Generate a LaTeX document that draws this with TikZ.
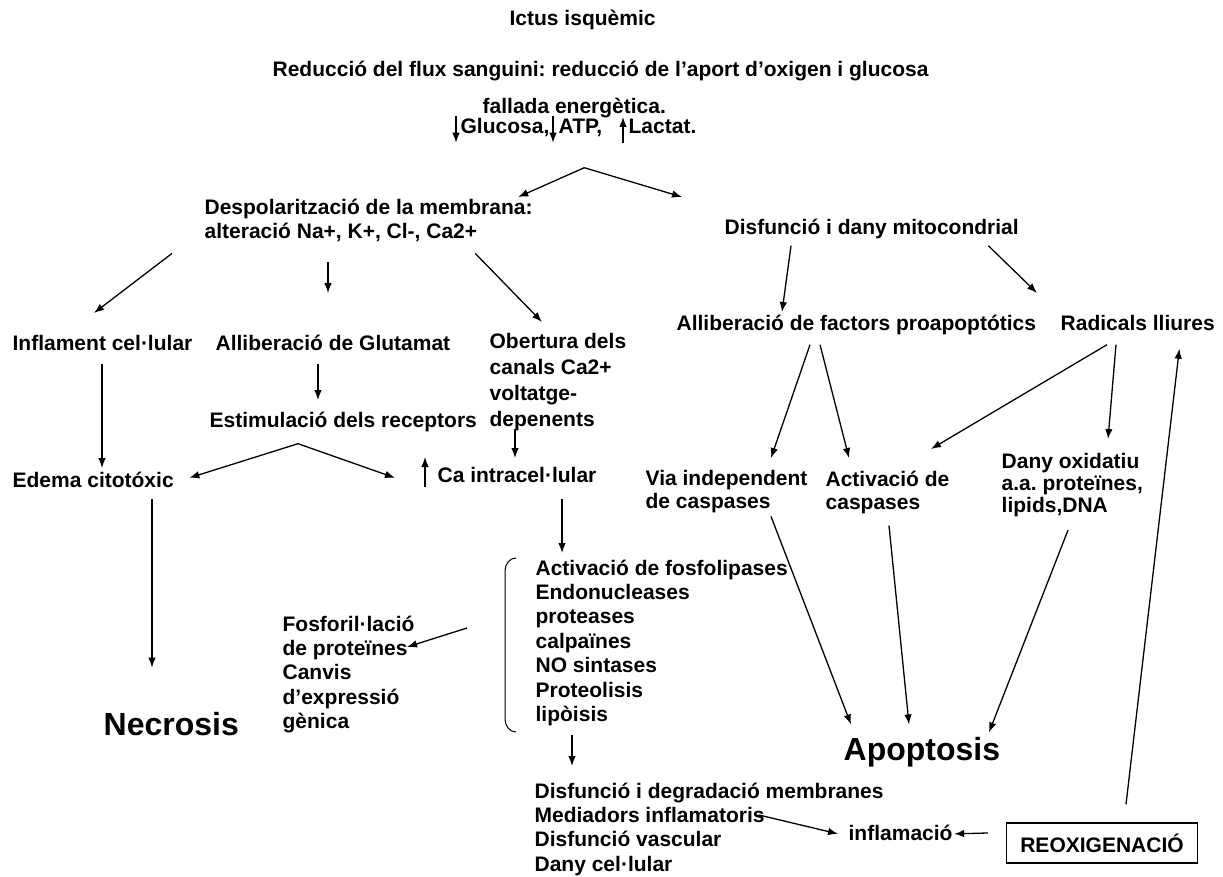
\documentclass[tikz,border=0pt]{standalone}
\usepackage{fontspec}
\setmainfont{Liberation Sans}
\usepackage{tikz}
\usetikzlibrary{arrows.meta}
\usetikzlibrary{calc}
\frenchspacing

\newcommand{\txtfont}{\fontsize{21}{24.4}\selectfont\bfseries}
\newcommand{\bigfont}{\fontsize{32}{38}\selectfont\bfseries}

\begin{document}
\begin{tikzpicture}[x=1pt,y=-1pt,line width=1.3pt,>={Latex[length=10pt,width=7.5pt]},
  txt/.style={anchor=north west,inner sep=0pt,align=left,font=\txtfont,
    execute at begin node=\strut,execute at end node=\strut},
  big/.style={anchor=west,inner sep=0pt,font=\bigfont}]
\useasboundingbox (0,0) rectangle (1223,877);
\node[txt] (ictus) at (509,8) {Ictus isquèmic};
\node[txt] (reduccio) at (272,59) {Reducció del flux sanguini: reducció de l’aport d’oxigen i glucosa};
\node[txt] (fallada) at (482,96) {fallada energètica.};
\node[txt] (glucosa) at (460,116) {Glucosa,};
\node[txt] (atp) at (558,116) {ATP,};
\node[txt] (lactat) at (628,116) {Lactat.};
\node[txt] (despol) at (204,198) {Despolarització de la membrana:\\alteració Na+, K+, Cl-, Ca2+};
\node[txt] (mitoc) at (724,217) {Disfunció i dany mitocondrial};
\node[txt] (inflament) at (12,333) {Inflament cel·lular};
\node[txt] (glutamat) at (215,333) {Alliberació de Glutamat};
\node[txt,font=\fontsize{21}{25.8}\selectfont\bfseries] (obertura) at (489,333) {Obertura dels\\canals Ca2+\\voltatge-\\depenents};
\node[txt] (factors) at (676,313) {Alliberació de factors proapoptótics};
\node[txt] (radicals) at (1060,313) {Radicals lliures};
\node[txt] (receptors) at (209,410) {Estimulació dels receptors};
\node[txt] (edema) at (12,470) {Edema citotóxic};
\node[txt] (calci) at (437,465) {Ca intracel·lular};
\node[txt,font=\fontsize{21}{23}\selectfont\bfseries] (viacasp) at (645,470) {Via independent\\de caspases};
\node[txt,font=\fontsize{21}{23}\selectfont\bfseries] (activcasp) at (825,470) {Activació de\\caspases};
\node[txt,font=\fontsize{21}{22}\selectfont\bfseries] (oxidatiu) at (1001,453) {Dany oxidatiu\\a.a. proteïnes,\\lipids,DNA};
\node[txt] (enzims) at (535,559) {Activació de fosfolipases\\Endonucleases\\proteases\\calpaïnes\\NO sintases\\Proteolisis\\lipòisis};
\node[txt] (fosforil) at (282,615) {Fosforil·lació\\de proteïnes\\Canvis\\d’expressió\\gènica};
\node[big] (necrosi) at (103,724) {Necrosis};
\node[big] (apoptosi) at (843,752) {Apoptosis};
\node[txt] (membranes) at (534,782) {Disfunció i degradació membranes\\Mediadors inflamatoris\\Disfunció vascular\\Dany cel·lular};
\node[txt] (inflamacio) at (848,823) {inflamació};
\node[draw,line width=1.4pt,minimum width=191pt,minimum height=40pt,inner sep=0pt,font=\txtfont] (reox) at (1102,843) {REOXIGENACIÓ};
\coordinate (fork1) at ($(fallada.south)+(10,46)$);
\coordinate (fork2) at ($(receptors.south west)+(89,8)$);
\draw[->] ($(glucosa.north west)+(-4,0)$) -- ($(glucosa.south west)+(-4,1)$);
\draw[->] ($(atp.north west)+(-5,0)$) -- ($(atp.south west)+(-5,1)$);
\draw[->] ($(lactat.south west)+(-5,1)$) -- ($(lactat.north west)+(-5,1)$);
\draw[->] (fork1) -- ($(despol.north east)+(-15,-1)$);
\draw[->] (fork1) -- ($(mitoc.north west)+(-42,-20)$);
\draw[->] ($(despol.south west)+(-32,7)$) -- ($(inflament.north west)+(82,-20)$);
\draw[->] ($(despol.south west)+(124,16)$) -- ($(glutamat.north west)+(113,-40)$);
\draw[->] ($(despol.south east)+(-58,7)$) -- ($(obertura.north west)+(53,-11)$);
\draw[->] ($(mitoc.south west)+(67,3)$) -- ($(factors.north west)+(106,-1)$);
\draw[->] ($(mitoc.south east)+(-31,3)$) -- ($(radicals.north west)+(-23,-20)$);
\draw[->] ($(inflament.south west)+(90,5)$) -- ($(edema.north west)+(90,-2)$);
\draw[->] ($(glutamat.south west)+(103,5)$) -- ($(receptors.north west)+(109,-10)$);
\draw[->] (fork2) -- ($(edema.east)+(15,-5)$);
\draw[->] (fork2) -- ($(calci.west)+(-42,0)$);
\draw[->] ($(obertura.south west)+(26,-6)$) -- ($(calci.north west)+(78,-7)$);
\draw[->] ($(calci.south west)+(-12,-4)$) -- ($(calci.north west)+(-12,-8)$);
\draw[->] ($(edema.south west)+(140,3)$) -- ($(necrosi.north west)+(49,-44)$);
\draw[->] ($(calci.south west)+(125,8)$) -- ($(enzims.north west)+(27,-6)$);
\draw[line width=1pt] ($(enzims.north west)+(-19,-1)$) to[out=180,in=90] ++(-11,13) -- ++(0,148) to[out=-90,in=180] ++(11,13);
\draw[->] ($(enzims.north west)+(-68,69)$) -- ($(fosforil.north west)+(125,32)$);
\draw[->] ($(enzims.south west)+(37,6)$) -- ($(membranes.north west)+(38,-16)$);
\draw[->] ($(factors.south west)+(134,6)$) -- ($(viacasp.north west)+(126,-12)$);
\draw[->] ($(factors.south west)+(144,6)$) -- ($(activcasp.north west)+(24,-12)$);
\draw[->] ($(radicals.south west)+(47,6)$) -- ($(activcasp.north west)+(106,-21)$);
\draw[->] ($(radicals.south west)+(56,6)$) -- ($(oxidatiu.north west)+(107,-14)$);
\draw[->] ($(viacasp.south west)+(126,0)$) -- ($(apoptosi.north west)+(8,-12)$);
\draw[->] ($(activcasp.south west)+(64,9)$) -- ($(apoptosi.north west)+(66,-12)$);
\draw[->] ($(oxidatiu.south west)+(67,10)$) -- ($(apoptosi.north west)+(146,-4)$);
\draw[->] ($(membranes.north west)+(225,33)$) -- ($(inflamacio.west)+(-10,-2)$);
\draw[->] ($(reox.west)+(-18,-10)$) -- ($(inflamacio.east)+(1,-2)$);
\draw[->] ($(reox.north)+(24,-18)$) -- ($(radicals.south east)+(-36,10)$);
\end{tikzpicture}
\end{document}
